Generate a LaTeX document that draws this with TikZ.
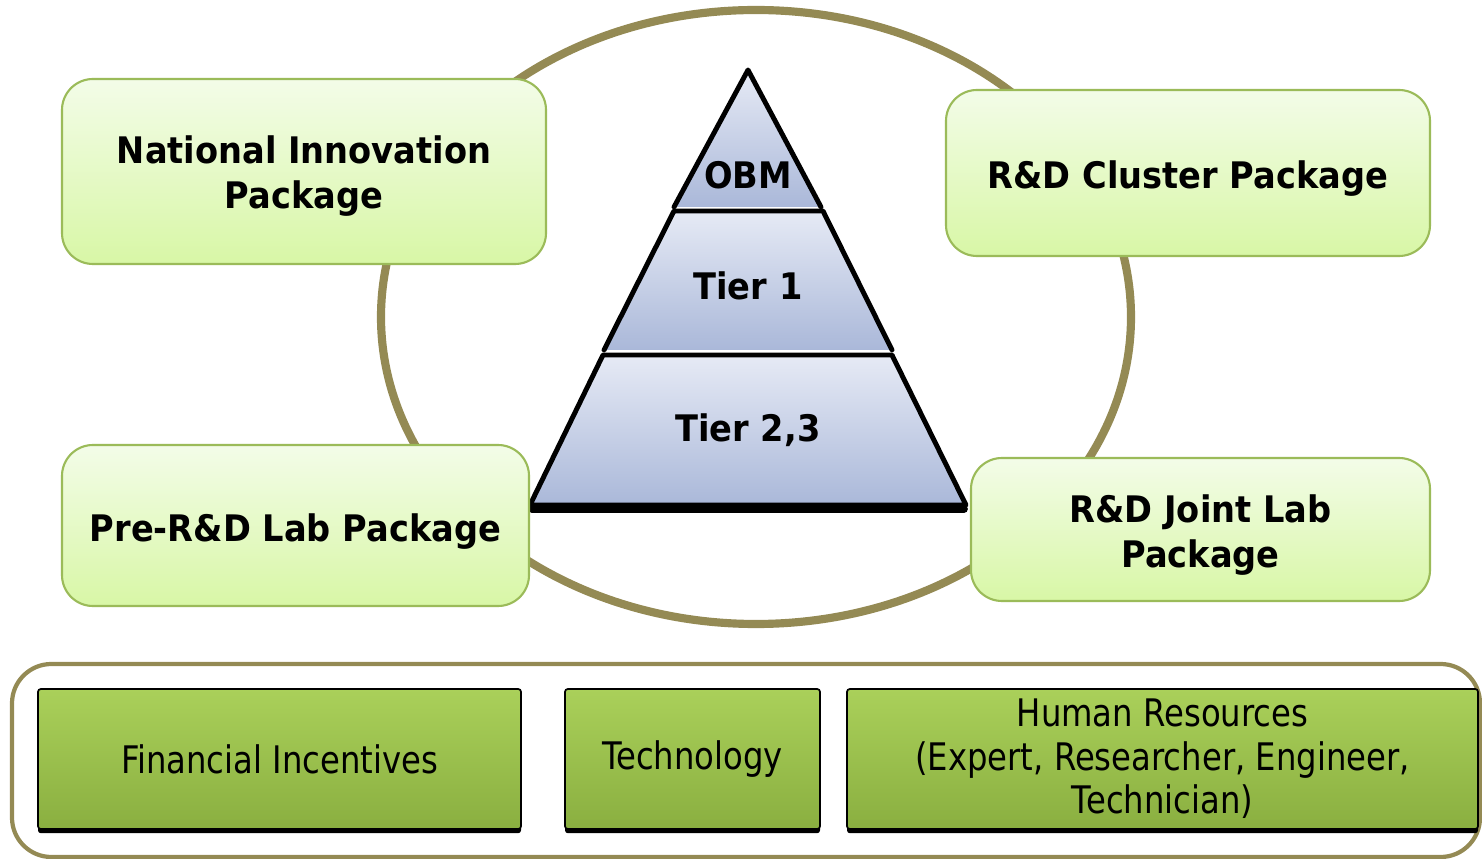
\documentclass[tikz,border=0pt]{standalone}
\usepackage{fontspec}
\setmainfont{DejaVu Sans}
\newfontfamily\pkgfont{DejaVu Sans}[FakeStretch=0.92]
\newfontfamily\resfont{DejaVu Sans}[FakeStretch=0.85]
\usetikzlibrary{calc}
\usetikzlibrary{positioning}
\usetikzlibrary{shadows}
\definecolor{ringolive}{RGB}{148,138,84}
\definecolor{pkgline}{RGB}{155,187,89}
\definecolor{pkgtop}{RGB}{243,252,232}
\definecolor{pkgbot}{RGB}{216,247,166}
\definecolor{btntop}{RGB}{170,208,90}
\definecolor{btnbot}{RGB}{138,175,64}
\definecolor{pyrtop}{RGB}{230,234,245}
\definecolor{pyrbot}{RGB}{170,184,217}
\def\px{0.025cm}

\begin{document}
\begin{tikzpicture}[x=\px, y=-\px,
  pkgbox/.style={draw=pkgline, line width=1.5pt, rounded corners=22pt,
    top color=pkgtop, bottom color=pkgbot},
  pkglabel/.style={align=center, font=\pkgfont\bfseries\fontsize{26}{32}\selectfont},
  resbox/.style={draw=black, line width=1.2pt, rounded corners=2pt,
    top color=btntop, bottom color=btnbot, align=center,
    drop shadow={shadow xshift=0pt, shadow yshift=-3pt, fill=black, opacity=1},
    font=\resfont\fontsize{27}{31}\selectfont, inner sep=0pt},
  tier/.style={top color=pyrtop, bottom color=pyrbot},
  tierline/.style={line width=3.5pt, line join=round, line cap=round},
  tierlabel/.style={font=\pkgfont\bfseries\fontsize{26}{32}\selectfont}]

\useasboundingbox (0,0) rectangle (1482,859);

% ring behind everything
\draw[ringolive, line width=5.8pt] (756,317) ellipse [x radius=375, y radius=307];

% pyramid
\coordinate (A0) at (748,70);
\coordinate (A1) at (674,207);
\coordinate (A2) at (821,207);
\coordinate (B1) at (674,211);
\coordinate (B2) at (823,211);
\coordinate (B3) at (892,350);
\coordinate (B4) at (604,350);
\coordinate (C1) at (603,355);
\coordinate (C2) at (892,355);
\coordinate (C3) at (966,505);
\coordinate (C4) at (530,505);

\shade[tier] (A1) -- (A0) -- (A2) -- cycle;
\draw[tierline] (A1) -- (A0) -- (A2);
\shade[tier] (B1) -- (B2) -- (B3) -- (B4) -- cycle;
\draw[tierline] (B4) -- (B1) -- (B2) -- (B3);
\shade[tier] (C1) -- (C2) -- (C3) -- (C4) -- cycle;
\draw[tierline] (C1) -- (C2) -- (C3) -- (C4) -- cycle;
\draw[line width=5.5pt, line cap=round] ($(C4)+(2,4)$) -- ($(C3)+(-2,4)$);

\node[tierlabel] (obm) at (748,175) {OBM};
\node[tierlabel] (tier1) at (748,286) {Tier 1};
\node[tierlabel] (tier23) at (748,430) {Tier 2,3};

% packages
\node[pkgbox, minimum width=484*\px, minimum height=185*\px] (nip) at (304,171.5) {};
\node[pkgbox, minimum width=484*\px, minimum height=166*\px] (cluster) at (1188,173) {};
\node[pkgbox, minimum width=467*\px, minimum height=161*\px] (prelab) at (295.5,525.5) {};
\node[pkgbox, minimum width=459*\px, minimum height=143*\px] (jointlab) at (1200.5,529.5) {};

\node[pkglabel] (niptext) at ($(nip.center)+(0,5)$) {National Innovation\\Package};
\node[pkglabel] (clustertext) at ($(cluster.center)+(0,6)$) {R\&D Cluster Package};
\node[pkglabel] (prelabtext) at ($(prelab.center)+(0,6)$) {Pre-R\&D Lab Package};
\node[pkglabel] (jointlabtext) at ($(jointlab.center)+(0,6)$) {R\&D Joint Lab\\Package};

% resources
\draw[ringolive, line width=3pt, rounded corners=28pt] (12,664) rectangle (1480,857);

\node[resbox, minimum width=483*\px, minimum height=140*\px] (fin) at (279.5,759)
  {Financial Incentives};
\node[resbox, minimum width=255*\px, minimum height=140*\px] (tech) at (692.5,759)
  {\raisebox{-2pt}{Technology}};
\node[resbox, minimum width=631*\px, minimum height=140*\px] (human) at (1162.5,759)
  {Human Resources\\(Expert, Researcher, Engineer,\\Technician)};

\end{tikzpicture}
\end{document}
